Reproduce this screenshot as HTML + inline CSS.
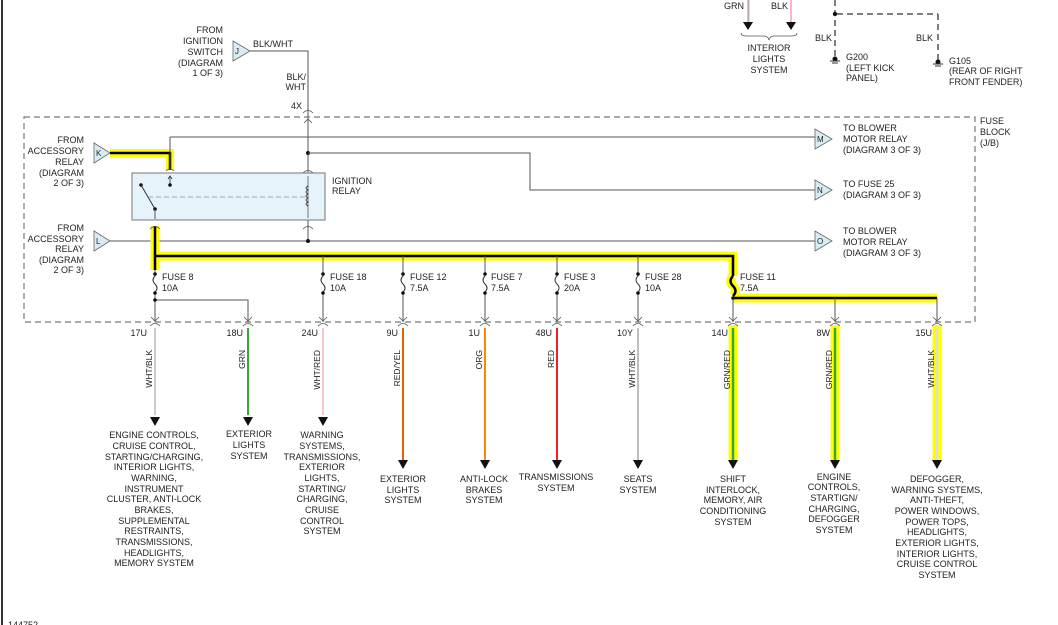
<!DOCTYPE html>
<html><head><meta charset="utf-8"><style>
html,body{margin:0;padding:0;background:#fff;}
svg{display:block;font-family:"Liberation Sans",sans-serif;font-size:9px;fill:#222;}
text{fill:#222;}
</style></head><body>
<svg width="1058" height="625" viewBox="0 0 1058 625" xmlns="http://www.w3.org/2000/svg">
<rect x="0" y="0" width="1058" height="625" fill="#fff"/>
<line x1="2" y1="0" x2="2" y2="625" stroke="#333" stroke-width="2"/>

<!-- top right: interior lights -->
<line x1="748" y1="0" x2="748" y2="22" stroke="#9c9" stroke-width="1.5"/>
<line x1="749" y1="0" x2="749" y2="22" stroke="#f4b" stroke-width="0.6"/>
<line x1="791" y1="0" x2="791" y2="22" stroke="#f9b" stroke-width="1.5"/>
<polygon points="743,22 753,22 748,30" fill="#111"/>
<polygon points="786,22 796,22 791,30" fill="#111"/>
<text x="724" y="9">GRN</text><text x="771" y="9">BLK</text>
<path d="M741,33 q0,3 5,3 h18 q4,0 5,4 q1,-4 5,-4 h18 q5,0 5,-3" fill="none" stroke="#555" stroke-width="0.8"/>
<text text-anchor="middle" font-size="9"><tspan x="769" y="51">INTERIOR</tspan><tspan x="769" y="62">LIGHTS</tspan><tspan x="769" y="73">SYSTEM</tspan></text>
<!-- grounds -->
<line x1="835" y1="0" x2="835" y2="58" stroke="#555" stroke-width="1.5" stroke-dasharray="6,4"/>
<circle cx="835" cy="14" r="2.2" fill="#111"/>
<line x1="837" y1="14" x2="938" y2="14" stroke="#555" stroke-width="1.5" stroke-dasharray="6,4"/>
<line x1="938" y1="14" x2="938" y2="62" stroke="#555" stroke-width="1.5" stroke-dasharray="6,4"/>
<text x="815" y="41">BLK</text><text x="916" y="41">BLK</text>
<circle cx="835" cy="59" r="2.5" fill="#111"/>
<line x1="830" y1="61" x2="840" y2="61" stroke="#333"/><line x1="832" y1="63" x2="838" y2="63" stroke="#333"/>
<circle cx="938" cy="62" r="2.5" fill="#111"/>
<line x1="933" y1="64" x2="943" y2="64" stroke="#333"/><line x1="935" y1="66" x2="941" y2="66" stroke="#333"/>
<text><tspan x="846" y="60">G200</tspan><tspan x="846" y="71">(LEFT KICK</tspan><tspan x="846" y="81">PANEL)</tspan></text>
<text><tspan x="949" y="64">G105</tspan><tspan x="949" y="74">(REAR OF RIGHT</tspan><tspan x="949" y="85">FRONT FENDER)</tspan></text>

<!-- J -->
<text text-anchor="end"><tspan x="223" y="33">FROM</tspan><tspan x="223" y="44">IGNITION</tspan><tspan x="223" y="55">SWITCH</tspan><tspan x="223" y="66">(DIAGRAM</tspan><tspan x="223" y="76">1 OF 3)</tspan></text>
<polygon points="233,41 250,51 233,61" fill="#d8ecf6" stroke="#666" stroke-width="0.8"/>
<text x="235" y="54" font-size="8">J</text>
<polyline points="250,51 308,51 308,240" fill="none" stroke="#555" stroke-width="1"/>
<text x="253" y="47">BLK/WHT</text>
<text text-anchor="end"><tspan x="306" y="80">BLK/</tspan><tspan x="306" y="90">WHT</tspan></text>
<text x="291" y="109">4X</text>
<path d="M303,113 q5,-5 10,0" fill="none" stroke="#555" stroke-width="0.8"/>
<path d="M304,123 l4,-4 l4,4" fill="none" stroke="#555" stroke-width="0.8"/>

<!-- dashed box -->
<rect x="24" y="117" width="951" height="205" fill="none" stroke="#777" stroke-width="1.2" stroke-dasharray="6,4"/>
<text><tspan x="980" y="124">FUSE</tspan><tspan x="980" y="135">BLOCK</tspan><tspan x="980" y="146">(J/B)</tspan></text>

<!-- K -->
<text text-anchor="end"><tspan x="84" y="143">FROM</tspan><tspan x="84" y="154">ACCESSORY</tspan><tspan x="84" y="165">RELAY</tspan><tspan x="84" y="176">(DIAGRAM</tspan><tspan x="84" y="186">2 OF 3)</tspan></text>
<polygon points="94,143 110,153 94,163" fill="#d8ecf6" stroke="#666" stroke-width="0.8"/>
<text x="96" y="156" font-size="8">K</text>
<polyline points="110,153 170,153 170,170" fill="none" stroke="#ff0" stroke-width="8"/>
<polyline points="110,153 170,153 170,170" fill="none" stroke="#000" stroke-width="2.5"/>
<polyline points="170,137 170,170" fill="none" stroke="#555"/>
<line x1="170" y1="137" x2="815" y2="137" stroke="#555"/>
<path d="M166,171 q4,-4 8,0" fill="none" stroke="#555" stroke-width="0.8"/>

<!-- M N O -->
<polygon points="815,129 832,139 815,149" fill="#d8ecf6" stroke="#666" stroke-width="0.8"/>
<text x="817" y="142" font-size="8">M</text>
<text><tspan x="843" y="131">TO BLOWER</tspan><tspan x="843" y="142">MOTOR RELAY</tspan><tspan x="843" y="153">(DIAGRAM 3 OF 3)</tspan></text>
<circle cx="308" cy="153" r="2" fill="#111"/>
<polyline points="308,153 530,153 530,190 815,190" fill="none" stroke="#555"/>
<polygon points="815,180 832,190 815,200" fill="#d8ecf6" stroke="#666" stroke-width="0.8"/>
<text x="817" y="193" font-size="8">N</text>
<text><tspan x="843" y="187">TO FUSE 25</tspan><tspan x="843" y="198">(DIAGRAM 3 OF 3)</tspan></text>
<line x1="110" y1="241" x2="815" y2="241" stroke="#555"/>
<circle cx="308" cy="241" r="2" fill="#111"/>
<polygon points="815,231 832,241 815,251" fill="#d8ecf6" stroke="#666" stroke-width="0.8"/>
<text x="817" y="244" font-size="8">O</text>
<text><tspan x="843" y="234">TO BLOWER</tspan><tspan x="843" y="245">MOTOR RELAY</tspan><tspan x="843" y="256">(DIAGRAM 3 OF 3)</tspan></text>

<!-- L -->
<text text-anchor="end"><tspan x="84" y="231">FROM</tspan><tspan x="84" y="242">ACCESSORY</tspan><tspan x="84" y="252">RELAY</tspan><tspan x="84" y="263">(DIAGRAM</tspan><tspan x="84" y="273">2 OF 3)</tspan></text>
<polygon points="94,231 110,241 94,251" fill="#d8ecf6" stroke="#666" stroke-width="0.8"/>
<text x="96" y="244" font-size="8">L</text>

<!-- relay -->
<rect x="132" y="173" width="193" height="47" fill="#e6f3fa" stroke="#777" stroke-width="1"/>
<text><tspan x="332" y="184">IGNITION</tspan><tspan x="332" y="194">RELAY</tspan></text>
<line x1="170" y1="176" x2="170" y2="184" stroke="#333" stroke-width="0.8"/>
<path d="M168,179 l2,-3 l2,3" fill="none" stroke="#333" stroke-width="0.8"/>
<circle cx="170" cy="185" r="1.8" fill="#111"/>
<circle cx="141" cy="185" r="1.8" fill="#111"/>
<line x1="141" y1="185" x2="155" y2="209" stroke="#333"/>
<circle cx="155" cy="209" r="1.8" fill="#111"/>
<line x1="155" y1="209" x2="155" y2="219" stroke="#333" stroke-width="0.8"/>
<line x1="148" y1="197" x2="305" y2="197" stroke="#888" stroke-width="0.8" stroke-dasharray="5,3"/>
<line x1="308" y1="176" x2="308" y2="218" stroke="#555" stroke-width="0.8"/>
<path d="M308,186 q-4,2 0,4 q-4,2 0,4 q-4,2 0,4 q-4,2 0,4 q-4,2 0,4" fill="none" stroke="#333" stroke-width="0.8"/>
<path d="M303,173 q5,-5 10,0" fill="none" stroke="#555" stroke-width="0.8"/>
<path d="M303,229 q5,-5 10,0 M303,229" fill="none" stroke="#555" stroke-width="0.8"/>

<!-- yellow bus -->
<g fill="none" stroke-linejoin="miter">
<polyline points="155,226 155,270" stroke="#ff0" stroke-width="9"/>
<polyline points="155,256 733,256 733,276" stroke="#ff0" stroke-width="9"/>
<path d="M733,276 q-5,5 0,10 q5,5 0,10" stroke="#ff0" stroke-width="9"/>
<polyline points="733,298 937,298" stroke="#ff0" stroke-width="9"/>
<polyline points="155,226 155,270" stroke="#000" stroke-width="2.5"/>
<polyline points="155,256 733,256 733,276" stroke="#000" stroke-width="2.5"/>
<path d="M733,276 q-5,5 0,10 q5,5 0,10" stroke="#000" stroke-width="2.5"/>
<polyline points="733,298 937,298" stroke="#000" stroke-width="2.5"/>
</g>
<path d="M150,229 q5,-5 10,0" fill="none" stroke="#555" stroke-width="0.8"/>

<!-- fuses -->
<g stroke="#555" fill="none">
<line x1="323" y1="256" x2="323" y2="322"/><line x1="403" y1="256" x2="403" y2="322"/>
<line x1="485" y1="256" x2="485" y2="322"/><line x1="557" y1="256" x2="557" y2="322"/>
<line x1="638" y1="256" x2="638" y2="322"/><line x1="155" y1="270" x2="155" y2="322"/>
<polyline points="155,300 248,300 248,322"/>
<line x1="835" y1="298" x2="835" y2="322"/><line x1="937" y1="298" x2="937" y2="322"/><line x1="733" y1="298" x2="733" y2="322"/>
</g>
<g fill="#fff" stroke="none">
<rect x="150" y="276" width="10" height="17"/><rect x="318" y="276" width="10" height="17"/><rect x="398" y="276" width="10" height="17"/><rect x="480" y="276" width="10" height="17"/><rect x="552" y="276" width="10" height="17"/><rect x="633" y="276" width="10" height="17"/>
</g>
<g fill="none" stroke="#333" stroke-width="1">
<path d="M155,276 q-4,4 0,8 q4,4 0,8"/><path d="M323,276 q-4,4 0,8 q4,4 0,8"/><path d="M403,276 q-4,4 0,8 q4,4 0,8"/><path d="M485,276 q-4,4 0,8 q4,4 0,8"/><path d="M557,276 q-4,4 0,8 q4,4 0,8"/><path d="M638,276 q-4,4 0,8 q4,4 0,8"/>
</g>
<g fill="#111">
<circle cx="155" cy="274" r="1.8"/><circle cx="155" cy="293" r="1.8"/><circle cx="155" cy="300" r="1.8"/>
<circle cx="323" cy="274" r="1.8"/><circle cx="323" cy="293" r="1.8"/>
<circle cx="403" cy="274" r="1.8"/><circle cx="403" cy="293" r="1.8"/>
<circle cx="485" cy="274" r="1.8"/><circle cx="485" cy="293" r="1.8"/>
<circle cx="557" cy="274" r="1.8"/><circle cx="557" cy="293" r="1.8"/>
<circle cx="638" cy="274" r="1.8"/><circle cx="638" cy="293" r="1.8"/>
<circle cx="733" cy="298" r="1.8"/>
</g>
<text><tspan x="162" y="280">FUSE 8</tspan><tspan x="162" y="291">10A</tspan></text>
<text><tspan x="330" y="280">FUSE 18</tspan><tspan x="330" y="291">10A</tspan></text>
<text><tspan x="410" y="280">FUSE 12</tspan><tspan x="410" y="291">7.5A</tspan></text>
<text><tspan x="491" y="280">FUSE 7</tspan><tspan x="491" y="291">7.5A</tspan></text>
<text><tspan x="564" y="280">FUSE 3</tspan><tspan x="564" y="291">20A</tspan></text>
<text><tspan x="645" y="280">FUSE 28</tspan><tspan x="645" y="291">10A</tspan></text>
<text><tspan x="740" y="280">FUSE 11</tspan><tspan x="740" y="291">7.5A</tspan></text>

<!-- output wires -->
<g fill="none">
<line x1="733" y1="325" x2="733" y2="460" stroke="#ff0" stroke-width="9"/>
<line x1="835" y1="325" x2="835" y2="460" stroke="#ff0" stroke-width="9"/>
<line x1="937" y1="325" x2="937" y2="460" stroke="#ff0" stroke-width="9"/>
<line x1="155" y1="328" x2="155" y2="415" stroke="#bbb" stroke-width="1.5"/>
<line x1="248" y1="328" x2="248" y2="415" stroke="#3a3" stroke-width="2"/>
<line x1="323" y1="328" x2="323" y2="415" stroke="#f8c8c8" stroke-width="2"/>
<line x1="403" y1="328" x2="403" y2="460" stroke="#e90" stroke-width="2"/>
<line x1="403" y1="328" x2="403" y2="460" stroke="#c00" stroke-width="0.7"/>
<line x1="485" y1="328" x2="485" y2="460" stroke="#f80" stroke-width="2"/>
<line x1="557" y1="328" x2="557" y2="460" stroke="#e22" stroke-width="2"/>
<line x1="638" y1="328" x2="638" y2="460" stroke="#aaa" stroke-width="1.5"/>
<line x1="733" y1="328" x2="733" y2="460" stroke="#3a3" stroke-width="2.5"/>
<line x1="835" y1="328" x2="835" y2="460" stroke="#3a3" stroke-width="2.5"/>
<line x1="937" y1="328" x2="937" y2="460" stroke="#ddd" stroke-width="2.5"/>
</g>
<g fill="none" stroke="#555" stroke-width="0.8">
<path d="M150,326 q5,-5 10,0"/><path d="M243,326 q5,-5 10,0"/><path d="M318,326 q5,-5 10,0"/><path d="M398,326 q5,-5 10,0"/><path d="M480,326 q5,-5 10,0"/><path d="M552,326 q5,-5 10,0"/><path d="M633,326 q5,-5 10,0"/><path d="M728,326 q5,-5 10,0"/><path d="M830,326 q5,-5 10,0"/><path d="M932,326 q5,-5 10,0"/>
<path d="M151,317 l4,4 l4,-4"/><path d="M244,317 l4,4 l4,-4"/><path d="M319,317 l4,4 l4,-4"/><path d="M399,317 l4,4 l4,-4"/><path d="M481,317 l4,4 l4,-4"/><path d="M553,317 l4,4 l4,-4"/><path d="M634,317 l4,4 l4,-4"/><path d="M729,317 l4,4 l4,-4"/><path d="M831,317 l4,4 l4,-4"/><path d="M933,317 l4,4 l4,-4"/>
</g>
<g fill="#111">
<polygon points="150,417 160,417 155,426"/><polygon points="243,417 253,417 248,426"/><polygon points="318,417 328,417 323,426"/>
<polygon points="398,460 408,460 403,469"/><polygon points="480,460 490,460 485,469"/><polygon points="552,460 562,460 557,469"/><polygon points="633,460 643,460 638,469"/>
<polygon points="728,460 738,460 733,469"/><polygon points="830,460 840,460 835,469"/><polygon points="932,460 942,460 937,469"/>
</g>
<g text-anchor="end">
<text x="147" y="336">17U</text><text x="243" y="336">18U</text><text x="318" y="336">24U</text><text x="398" y="336">9U</text><text x="480" y="336">1U</text><text x="552" y="336">48U</text><text x="633" y="336">10Y</text><text x="728" y="336">14U</text><text x="830" y="336">8W</text><text x="932" y="336">15U</text>
</g>
<g font-size="8.5" text-anchor="end">
<text transform="translate(152,350) rotate(-90)">WHT/BLK</text>
<text transform="translate(245,350) rotate(-90)">GRN</text>
<text transform="translate(320,350) rotate(-90)">WHT/RED</text>
<text transform="translate(400,350) rotate(-90)">RED/YEL</text>
<text transform="translate(482,350) rotate(-90)">ORG</text>
<text transform="translate(554,350) rotate(-90)">RED</text>
<text transform="translate(635,350) rotate(-90)">WHT/BLK</text>
<text transform="translate(730,350) rotate(-90)">GRN/RED</text>
<text transform="translate(832,350) rotate(-90)">GRN/RED</text>
<text transform="translate(934,350) rotate(-90)">WHT/BLK</text>
</g>

<g text-anchor="middle">
<text><tspan x="154" y="438">ENGINE CONTROLS,</tspan><tspan x="154" y="449">CRUISE CONTROL,</tspan><tspan x="154" y="460">STARTING/CHARGING,</tspan><tspan x="154" y="470">INTERIOR LIGHTS,</tspan><tspan x="154" y="481">WARNING,</tspan><tspan x="154" y="492">INSTRUMENT</tspan><tspan x="154" y="502">CLUSTER, ANTI-LOCK</tspan><tspan x="154" y="513">BRAKES,</tspan><tspan x="154" y="524">SUPPLEMENTAL</tspan><tspan x="154" y="534">RESTRAINTS,</tspan><tspan x="154" y="545">TRANSMISSIONS,</tspan><tspan x="154" y="556">HEADLIGHTS,</tspan><tspan x="154" y="566">MEMORY SYSTEM</tspan></text>
<text><tspan x="249" y="437">EXTERIOR</tspan><tspan x="249" y="448">LIGHTS</tspan><tspan x="249" y="459">SYSTEM</tspan></text>
<text><tspan x="322" y="438">WARNING</tspan><tspan x="322" y="449">SYSTEMS,</tspan><tspan x="322" y="460">TRANSMISSIONS,</tspan><tspan x="322" y="470">EXTERIOR</tspan><tspan x="322" y="481">LIGHTS,</tspan><tspan x="322" y="492">STARTING/</tspan><tspan x="322" y="502">CHARGING,</tspan><tspan x="322" y="513">CRUISE</tspan><tspan x="322" y="524">CONTROL</tspan><tspan x="322" y="534">SYSTEM</tspan></text>
<text><tspan x="403" y="482">EXTERIOR</tspan><tspan x="403" y="493">LIGHTS</tspan><tspan x="403" y="503">SYSTEM</tspan></text>
<text><tspan x="484" y="482">ANTI-LOCK</tspan><tspan x="484" y="493">BRAKES</tspan><tspan x="484" y="503">SYSTEM</tspan></text>
<text><tspan x="556" y="480">TRANSMISSIONS</tspan><tspan x="556" y="491">SYSTEM</tspan></text>
<text><tspan x="638" y="482">SEATS</tspan><tspan x="638" y="493">SYSTEM</tspan></text>
<text><tspan x="733" y="482">SHIFT</tspan><tspan x="733" y="493">INTERLOCK,</tspan><tspan x="733" y="503">MEMORY, AIR</tspan><tspan x="733" y="514">CONDITIONING</tspan><tspan x="733" y="525">SYSTEM</tspan></text>
<text><tspan x="834" y="480">ENGINE</tspan><tspan x="834" y="490">CONTROLS,</tspan><tspan x="834" y="501">STARTIGN/</tspan><tspan x="834" y="512">CHARGING,</tspan><tspan x="834" y="522">DEFOGGER</tspan><tspan x="834" y="533">SYSTEM</tspan></text>
<text><tspan x="937" y="482">DEFOGGER,</tspan><tspan x="937" y="493">WARNING SYSTEMS,</tspan><tspan x="937" y="503">ANTI-THEFT,</tspan><tspan x="937" y="514">POWER WINDOWS,</tspan><tspan x="937" y="525">POWER TOPS,</tspan><tspan x="937" y="535">HEADLIGHTS,</tspan><tspan x="937" y="546">EXTERIOR LIGHTS,</tspan><tspan x="937" y="557">INTERIOR LIGHTS,</tspan><tspan x="937" y="567">CRUISE CONTROL</tspan><tspan x="937" y="578">SYSTEM</tspan></text>
</g>
<text x="8" y="628">144752</text>
</svg>
</body></html>
